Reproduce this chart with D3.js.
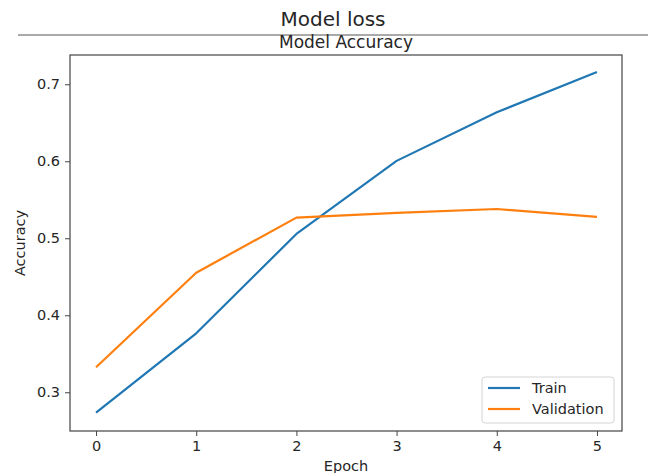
<!DOCTYPE html>
<html>
<head>
<meta charset="utf-8">
<script src="https://cdn.jsdelivr.net/npm/d3@7"></script>
<style>
  body { margin: 0; background: #fff; }
  text { font-family: "DejaVu Sans", sans-serif; fill: #262626; }
</style>
</head>
<body>
<div id="chart-area"></div>
<script>
// values
var epochs = [0, 1, 2, 3, 4, 5];
var trainAcc = [0.2735, 0.3766, 0.5056, 0.6005, 0.6636, 0.7160];
var valAcc = [0.3325, 0.4553, 0.5268, 0.5330, 0.5380, 0.5277];
var yTicks = [0.3, 0.4, 0.5, 0.6, 0.7];
var seriesNames = ["Train", "Validation"];
var seriesColors = ["#1f77b4", "#ff7f0e"];

var width = 655, height = 473;
// plot box (not called "top": that name is taken by window.top)
var plotL = 70, plotR = 622, plotT = 55, plotB = 431;
var small = 14.5;

var svg = d3.select("#chart-area").append("svg")
    .attr("width", width)
    .attr("height", height);

// suptitle + separator line
svg.append("text")
    .attr("x", 333).attr("y", 26)
    .attr("text-anchor", "middle")
    .attr("font-size", 20)
    .text("Model loss");

svg.append("line")
    .attr("x1", 18).attr("x2", 648)
    .attr("y1", 35).attr("y2", 35)
    .attr("stroke", "#555").attr("stroke-width", 1);

svg.append("text")
    .attr("x", (plotL + plotR) / 2).attr("y", 48)
    .attr("text-anchor", "middle")
    .attr("font-size", 17)
    .text("Model Accuracy");

var x = d3.scaleLinear()
    .domain([-0.26, 5.25])
    .range([plotL, plotR]);

var y = d3.scaleLinear()
    .domain([0.2497, 0.738])
    .range([plotB, plotT]);

var xAxis = svg.append("g")
    .attr("transform", "translate(0," + plotB + ")")
    .call(d3.axisBottom(x).tickValues(epochs).tickFormat(d3.format("d")).tickSize(5).tickPadding(5));

var yAxis = svg.append("g")
    .attr("transform", "translate(" + plotL + ",0)")
    .call(d3.axisLeft(y).tickValues(yTicks).tickFormat(d3.format(".1f")).tickSize(5).tickPadding(5));

[xAxis, yAxis].forEach(function(g) {
    g.select(".domain").remove();
    g.selectAll(".tick line").attr("stroke", "#444");
    g.selectAll(".tick text").attr("font-size", small).attr("font-family", "DejaVu Sans, sans-serif").attr("fill", "#262626");
});

var line = d3.line()
    .x(function(d, i) { return x(epochs[i]); })
    .y(function(d) { return y(d); });

[trainAcc, valAcc].forEach(function(s, i) {
    svg.append("path")
        .datum(s)
        .attr("d", line)
        .attr("fill", "none")
        .attr("stroke", seriesColors[i])
        .attr("stroke-width", 2.2)
        .attr("stroke-linejoin", "round");
});

// frame
svg.append("rect")
    .attr("x", plotL).attr("y", plotT)
    .attr("width", plotR - plotL).attr("height", plotB - plotT)
    .attr("fill", "none")
    .attr("stroke", "#444").attr("stroke-width", 1.2);

// axis labels
svg.append("text")
    .attr("x", (plotL + plotR) / 2).attr("y", 471)
    .attr("text-anchor", "middle")
    .attr("font-size", small)
    .text("Epoch");

svg.append("text")
    .attr("transform", "translate(25," + ((plotT + plotB) / 2) + ") rotate(-90)")
    .attr("text-anchor", "middle")
    .attr("font-size", small)
    .text("Accuracy");

// legend
var legend = svg.append("g");
legend.append("rect")
    .attr("x", 482).attr("y", 377)
    .attr("width", 132).attr("height", 46)
    .attr("rx", 3)
    .attr("fill", "#fff").attr("fill-opacity", 0.8)
    .attr("stroke", "#d4d4d4");

seriesNames.forEach(function(name, i) {
    var yy = 388 + i * 21;
    legend.append("line")
        .attr("x1", 488).attr("x2", 520)
        .attr("y1", yy).attr("y2", yy)
        .attr("stroke", seriesColors[i]).attr("stroke-width", 2.2);
    legend.append("text")
        .attr("x", 532).attr("y", yy + 5)
        .attr("font-size", small)
        .text(name);
});
</script>
</body>
</html>
